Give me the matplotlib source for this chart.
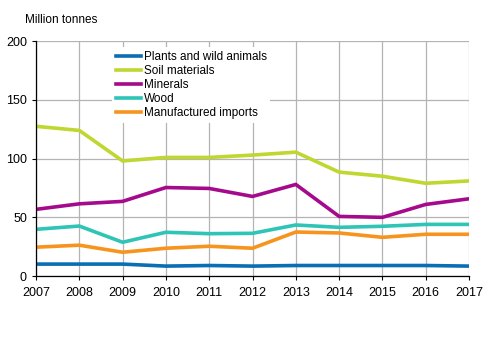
import matplotlib
matplotlib.use("Agg")
import matplotlib.pyplot as plt

plt.rcParams['font.family'] = ['Liberation Sans', 'DejaVu Sans']

years = [2007, 2008, 2009, 2010, 2011, 2012, 2013, 2014, 2015, 2016, 2017]
plants = [10.2, 10.2, 10.2, 8.5, 9.0, 8.5, 9.0, 9.0, 9.0, 9.0, 8.5]
soil = [127.5, 124, 98, 101, 101, 103, 105.5, 88.5, 85, 79, 81]
minerals = [56.8, 61.5, 63.6, 75.4, 74.6, 67.8, 78, 50.8, 50, 61, 65.8]
wood = [39.8, 42.6, 28.8, 37.3, 36.1, 36.4, 43.5, 41.5, 42.4, 44, 44]
imports = [24.6, 26.3, 20.3, 23.7, 25.4, 23.7, 37.5, 36.7, 33, 35.6, 35.6]

series = [
    ("Plants and wild animals", plants, "#0a6eb4"),
    ("Soil materials", soil, "#bfd730"),
    ("Minerals", minerals, "#a50a8c"),
    ("Wood", wood, "#2ec4b6"),
    ("Manufactured imports", imports, "#f7941e"),
]

fig = plt.figure(figsize=(4.91, 3.40), dpi=100)
ax = fig.add_axes([0.0733, 0.188, 0.882, 0.691])

for name, vals, col in series:
    ax.plot(years, vals, color=col, lw=2.6, label=name, solid_joinstyle='miter')

ax.set_xlim(2007, 2017)
ax.set_ylim(0, 200)
ax.set_xticks(years)
ax.set_yticks([0, 50, 100, 150, 200])
ax.grid(True, color="#b4b4b4", lw=0.9)
ax.set_axisbelow(True)
for s in ['top', 'right']:
    ax.spines[s].set_visible(False)
for s in ['left', 'bottom']:
    ax.spines[s].set_color('black')
    ax.spines[s].set_linewidth(0.9)
ax.tick_params(axis='both', labelsize=9, length=3, width=0.8, color='black')
ax.tick_params(axis='x', pad=5)

fig.text(0.051, 0.942, "Million tonnes", fontsize=8.5, ha='left', va='center')

leg = ax.legend(loc='upper left', bbox_to_anchor=(0.17, 0.984), frameon=True,
                fontsize=8.5, handlelength=2.2, handletextpad=0.2,
                labelspacing=0.18, borderpad=0.3, borderaxespad=0.2)
leg.get_frame().set_edgecolor('none')
leg.get_frame().set_facecolor('white')
leg.get_frame().set_alpha(1)

fig.savefig("out.png", dpi=100)
